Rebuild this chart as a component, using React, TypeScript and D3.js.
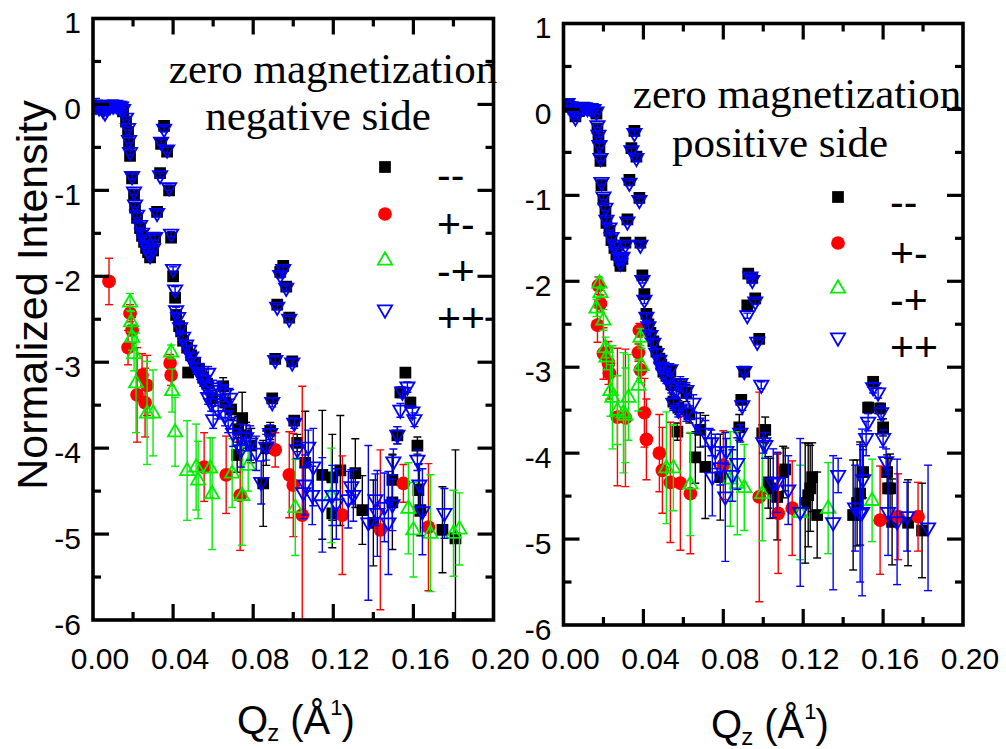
import React from 'react';
import * as d3 from 'd3';

// Each point: [Qz (1/Å), log10 normalized intensity, error on the log value]
type Pt = [number, number, number];

// ---------- negative side ----------
const negMM: Pt[] = [
  [0.002,-0.01,0.03],[0.004,-0.03,0.02],[0.006,-0.06,0.02],[0.008,-0.02,0.02],[0.010,-0.01,0.02],[0.012,-0.02,0.02],[0.014,-0.03,0.02],[0.015,-0.08,0.02],
  [0.0165,-0.20,0.02],[0.0175,-0.32,0.02],[0.018,-0.46,0.03],[0.0185,-0.60,0.03],[0.0195,-0.86,0.03],[0.0205,-1.05,0.03],[0.021,-1.20,0.03],[0.022,-1.32,0.03],
  [0.0235,-1.44,0.03],[0.0245,-1.53,0.03],[0.0255,-1.60,0.03],[0.0265,-1.67,0.03],[0.0275,-1.72,0.03],[0.0285,-1.78,0.03],[0.030,-1.70,0.03],[0.031,-1.55,0.03],
  [0.032,-1.25,0.03],[0.0335,-0.80,0.03],[0.034,-0.46,0.03],[0.0355,-0.25,0.03],[0.037,-0.55,0.03],[0.038,-1.00,0.03],[0.039,-1.55,0.03],[0.040,-2.00,0.03],
  [0.041,-2.25,0.04],[0.0415,-2.45,0.04],[0.043,-2.58,0.04],[0.044,-2.64,0.04],[0.045,-2.75,0.04],[0.047,-2.83,0.05],[0.0475,-3.12,0.05],[0.049,-2.92,0.05],
  [0.051,-3.02,0.06],[0.053,-3.08,0.06],[0.055,-3.18,0.07],[0.057,-3.25,0.08],[0.0595,-3.42,0.09],[0.065,-3.28,0.1],[0.066,-3.47,0.1],[0.069,-3.55,0.12],
  [0.072,-4.08,0.2],[0.0725,-3.78,0.15],[0.0745,-3.65,0.3],[0.0765,-3.85,0.15],[0.079,-3.97,0.2],[0.085,-4.41,0.5],[0.0865,-4.00,0.2],[0.0885,-3.80,0.1],
  [0.0895,-3.42,0.05],[0.091,-2.96,0.04],[0.092,-2.33,0.03],[0.0935,-1.95,0.03],[0.095,-1.88,0.03],[0.0965,-2.12,0.03],[0.098,-2.48,0.03],[0.0995,-2.99,0.04],
  [0.1005,-3.68,0.05],[0.102,-3.94,0.1],[0.106,-4.17,0.6],[0.1145,-4.31,0.75],[0.1195,-4.34,0.5],[0.1195,-4.76,0.4],[0.1235,-4.26,0.64],[0.131,-4.29,0.4],
  [0.1345,-4.72,0.4],[0.140,-4.87,0.5],[0.1495,-4.37,0.3],[0.1495,-4.63,0.55],[0.152,-3.85,0.1],[0.1535,-3.35,0.06],[0.156,-3.12,0.05],[0.1585,-3.47,0.06],
  [0.162,-3.97,0.1],[0.1625,-4.49,0.3],[0.1635,-4.72,0.3],[0.1745,-4.95,0.5],[0.181,-5.05,1.03],
];

const negPM: Pt[] = [
  [0.008,-2.06,0.27],[0.0175,-2.83,0.2],[0.0185,-2.43,0.1],[0.0195,-2.63,0.15],[0.022,-3.38,0.55],[0.0245,-3.15,0.25],[0.026,-3.47,0.4],[0.027,-3.27,0.35],
  [0.0385,-3.01,0.1],[0.039,-3.15,0.12],[0.0555,-4.22,0.4],[0.0665,-4.31,0.45],[0.0735,-4.55,0.64],[0.091,-4.02,0.2],[0.098,-4.31,0.5],[0.100,-4.43,0.6],
  [0.1045,-4.78,1.5],[0.1245,-4.78,0.69],[0.1435,-4.95,0.93],[0.155,-4.41,0.22],[0.1675,-4.92,0.74],
];

const negMP: Pt[] = [
  [0.0185,-2.30,0.1],[0.019,-2.53,0.12],[0.0195,-2.71,0.15],[0.0205,-2.90,0.2],[0.0215,-3.24,0.58],[0.027,-3.59,0.6],[0.030,-3.59,0.5],[0.039,-2.88,0.08],
  [0.0395,-3.33,0.25],[0.041,-3.81,0.4],[0.047,-4.26,0.58],[0.0515,-4.22,0.5],[0.0525,-4.37,0.45],[0.0585,-4.23,0.35],[0.0595,-4.53,0.65],[0.0695,-4.29,0.4],
  [0.0745,-4.55,0.58],[0.0775,-4.20,0.3],[0.101,-4.69,0.56],[0.119,-4.55,0.55],[0.1575,-4.70,0.53],[0.160,-4.95,0.55],[0.1685,-4.99,0.68],[0.180,-4.99,0.5],
  [0.183,-4.94,0.42],
];

const negPP: Pt[] = [
  [0.0015,-0.02,0.09],[0.003,-0.04,0.04],[0.004,-0.01,0.03],[0.005,-0.07,0.03],[0.006,-0.10,0.03],[0.007,-0.05,0.02],[0.008,-0.02,0.02],[0.009,-0.01,0.02],
  [0.010,-0.02,0.02],[0.011,-0.01,0.02],[0.012,-0.02,0.02],[0.013,-0.02,0.02],[0.014,-0.03,0.02],[0.015,-0.06,0.02],
  [0.0165,-0.16,0.02],[0.0175,-0.28,0.02],[0.018,-0.42,0.03],[0.0185,-0.56,0.03],[0.0195,-0.84,0.03],[0.0205,-1.02,0.03],[0.021,-1.17,0.03],[0.022,-1.29,0.03],
  [0.0235,-1.41,0.03],[0.0245,-1.50,0.03],[0.0255,-1.58,0.03],[0.0265,-1.64,0.03],[0.0275,-1.70,0.03],[0.0285,-1.76,0.03],[0.030,-1.68,0.03],[0.031,-1.55,0.03],
  [0.032,-1.27,0.03],[0.0335,-0.83,0.03],[0.034,-0.44,0.03],[0.0355,-0.29,0.03],[0.037,-0.53,0.03],[0.038,-0.97,0.03],[0.039,-1.51,0.03],[0.040,-1.92,0.03],
  [0.041,-2.16,0.04],[0.0415,-2.40,0.04],[0.0425,-2.48,0.04],[0.0435,-2.60,0.04],[0.045,-2.71,0.04],[0.0465,-2.80,0.05],[0.048,-2.86,0.05],[0.049,-2.94,0.05],
  [0.050,-3.00,0.06],[0.0515,-3.07,0.06],[0.0535,-3.13,0.07],[0.055,-3.21,0.07],[0.0565,-3.29,0.08],[0.0575,-3.13,0.08],[0.0575,-3.41,0.08],[0.059,-3.48,0.09],
  [0.060,-3.30,0.09],[0.060,-3.67,0.1],[0.0625,-3.56,0.1],[0.0635,-3.33,0.1],[0.066,-3.36,0.1],[0.066,-3.62,0.12],[0.0675,-3.70,0.12],[0.0685,-3.42,0.1],
  [0.070,-3.83,0.15],[0.0735,-3.87,0.15],[0.074,-4.02,0.2],[0.0765,-3.88,0.15],[0.0785,-3.94,0.2],[0.0815,-4.06,0.2],[0.084,-4.40,0.25],[0.0865,-3.99,0.15],
  [0.0885,-3.83,0.1],[0.0895,-3.47,0.05],[0.091,-2.98,0.04],[0.092,-2.36,0.03],[0.0935,-1.99,0.03],[0.095,-1.92,0.03],[0.0965,-2.14,0.03],[0.098,-2.50,0.03],
  [0.0995,-3.01,0.04],[0.1005,-3.71,0.06],[0.102,-4.02,0.1],
  [0.105,-4.52,0.3],[0.106,-4.43,0.35],[0.1075,-3.99,0.2],[0.1095,-4.55,0.34],[0.110,-4.22,0.45],[0.1145,-4.66,0.55],[0.1195,-4.55,0.35],[0.1215,-4.65,0.41],
  [0.1275,-4.60,0.33],[0.129,-4.45,0.2],[0.130,-4.55,0.3],[0.1375,-4.87,0.9],[0.141,-4.60,0.3],[0.142,-4.76,0.5],[0.1455,-4.69,0.4],[0.1475,-4.87,0.6],
  [0.1495,-4.66,0.3],[0.150,-4.16,0.15],[0.152,-3.85,0.1],[0.1535,-3.56,0.08],[0.1545,-3.35,0.06],[0.157,-3.29,0.06],[0.1595,-3.58,0.07],[0.1605,-3.67,0.08],
  [0.162,-4.14,0.12],[0.163,-4.43,0.25],[0.1645,-4.74,0.5],[0.1755,-4.76,0.29],
];

// ---------- positive side ----------
const posMM: Pt[] = [
  [0.002,0.06,0.03],[0.0035,0.03,0.02],[0.005,0.0,0.02],[0.006,-0.08,0.02],[0.0075,-0.02,0.02],[0.009,0.01,0.02],[0.0105,0.02,0.02],[0.012,0.01,0.02],
  [0.0135,0.0,0.02],[0.015,-0.01,0.02],[0.0165,-0.05,0.02],
  [0.017,-0.22,0.02],[0.0175,-0.33,0.02],[0.018,-0.45,0.03],[0.0185,-0.60,0.03],[0.019,-0.88,0.03],[0.020,-1.05,0.03],[0.021,-1.19,0.03],[0.0215,-1.32,0.03],
  [0.023,-1.41,0.03],[0.024,-1.52,0.03],[0.0255,-1.61,0.03],[0.0265,-1.69,0.03],[0.028,-1.76,0.03],[0.0285,-1.82,0.03],[0.0295,-1.74,0.03],[0.031,-1.55,0.03],
  [0.032,-1.28,0.03],[0.033,-0.82,0.03],[0.034,-0.45,0.03],[0.0355,-0.25,0.03],[0.0365,-0.55,0.03],[0.038,-1.03,0.03],[0.0385,-1.55,0.03],[0.0395,-1.93,0.03],
  [0.0405,-2.15,0.04],[0.0415,-2.38,0.04],[0.0425,-2.50,0.04],[0.0435,-2.60,0.04],[0.045,-2.70,0.04],[0.0465,-2.82,0.05],[0.048,-2.90,0.05],[0.049,-2.97,0.05],
  [0.050,-3.05,0.06],[0.0515,-3.10,0.06],[0.0535,-3.05,0.07],[0.054,-3.20,0.07],[0.055,-3.40,0.08],[0.057,-3.75,0.1],[0.0575,-3.47,0.08],[0.059,-3.22,0.08],
  [0.0615,-3.30,0.1],[0.063,-3.55,0.1],[0.066,-4.05,0.3],[0.0685,-3.73,0.2],[0.071,-4.16,0.6],[0.0785,-4.28,0.5],[0.088,-3.70,0.15],[0.089,-3.38,0.05],
  [0.0905,-3.05,0.04],[0.092,-2.28,0.03],[0.0925,-1.91,0.03],[0.0945,-1.96,0.03],[0.096,-2.20,0.03],[0.098,-2.67,0.03],[0.0995,-3.77,0.1],[0.101,-3.73,0.15],
  [0.1025,-4.34,0.3],[0.1035,-4.41,0.35],[0.107,-4.51,0.5],[0.110,-4.22,0.3],[0.111,-4.19,0.25],[0.121,-4.58,0.7],[0.1225,-4.49,0.6],[0.1235,-4.41,0.5],
  [0.1245,-4.28,0.4],[0.127,-4.72,0.5],[0.145,-4.72,0.64],[0.147,-4.58,0.5],[0.1485,-4.47,0.6],[0.150,-4.22,0.3],[0.1525,-3.47,0.06],[0.155,-3.17,0.05],
  [0.1585,-3.48,0.06],[0.160,-3.70,0.1],[0.162,-4.22,0.2],[0.1625,-4.41,0.35],[0.1635,-4.41,0.4],[0.1645,-4.80,0.5],[0.1725,-4.81,0.5],[0.1795,-4.90,0.55],
];

const posPM: Pt[] = [
  [0.017,-2.51,0.2],[0.0175,-2.05,0.1],[0.0185,-2.26,0.1],[0.020,-2.84,0.3],[0.0225,-2.95,0.25],[0.023,-3.07,0.3],[0.027,-3.58,0.8],[0.031,-3.59,0.8],
  [0.0375,-2.83,0.1],[0.038,-2.57,0.08],[0.0385,-3.03,0.1],[0.0405,-3.53,0.4],[0.0415,-3.84,0.47],[0.048,-4.00,0.45],[0.0495,-4.20,0.5],[0.0535,-4.34,0.7],
  [0.0585,-4.35,0.78],[0.0635,-4.47,0.7],[0.080,-4.14,0.4],[0.098,-4.51,1.22],[0.1075,-4.70,0.7],[0.1145,-4.64,0.55],[0.1585,-4.78,0.63],[0.1675,-4.74,0.5],
  [0.1775,-4.74,0.4],
];

const posMP: Pt[] = [
  [0.0165,-2.31,0.1],[0.018,-2.02,0.06],[0.0185,-2.13,0.06],[0.020,-2.45,0.12],[0.021,-2.77,0.12],[0.0215,-2.88,0.15],[0.0235,-3.27,0.3],[0.0245,-3.35,0.6],
  [0.027,-3.50,0.4],[0.030,-3.53,0.7],[0.031,-3.56,0.55],[0.0325,-3.35,0.5],[0.0375,-3.21,0.3],[0.0385,-2.65,0.1],[0.039,-2.98,0.2],[0.0515,-4.17,0.65],
  [0.055,-4.17,0.5],[0.0635,-4.36,0.6],[0.0835,-4.30,0.55],[0.087,-4.35,0.6],[0.0905,-4.40,0.5],[0.0995,-4.47,0.55],[0.1185,-4.69,0.55],[0.1325,-4.64,0.53],
  [0.1545,-4.55,0.48],
];

const posPP: Pt[] = [
  [0.002,0.07,0.03],[0.0035,0.03,0.02],[0.005,-0.01,0.02],[0.006,-0.10,0.02],[0.0075,-0.03,0.02],[0.009,0.01,0.02],[0.0105,0.02,0.02],[0.012,0.01,0.02],
  [0.0135,0.01,0.02],[0.015,0.0,0.02],[0.0165,-0.03,0.02],
  [0.017,-0.19,0.02],[0.0175,-0.30,0.02],[0.018,-0.42,0.03],[0.0185,-0.57,0.03],[0.019,-0.85,0.03],[0.020,-1.02,0.03],[0.021,-1.15,0.03],[0.0215,-1.29,0.03],
  [0.023,-1.38,0.03],[0.024,-1.49,0.03],[0.0255,-1.58,0.03],[0.0265,-1.66,0.03],[0.028,-1.73,0.03],[0.0285,-1.79,0.03],[0.0295,-1.72,0.03],[0.031,-1.58,0.03],
  [0.032,-1.31,0.03],[0.033,-0.86,0.03],[0.034,-0.48,0.03],[0.0355,-0.28,0.03],[0.0365,-0.57,0.03],[0.038,-1.06,0.03],[0.0385,-1.58,0.03],[0.0395,-1.99,0.03],
  [0.0405,-2.22,0.04],[0.0415,-2.42,0.04],[0.0425,-2.53,0.04],[0.0435,-2.63,0.04],[0.045,-2.72,0.04],[0.0465,-2.84,0.05],[0.048,-2.92,0.05],[0.049,-3.00,0.05],
  [0.050,-3.07,0.06],[0.0515,-3.13,0.06],[0.0535,-3.03,0.07],[0.054,-3.23,0.07],[0.055,-3.42,0.08],[0.0565,-3.27,0.08],[0.0575,-3.50,0.08],[0.0585,-3.19,0.08],
  [0.0615,-3.27,0.09],[0.0615,-3.53,0.1],[0.065,-3.42,0.1],[0.0665,-3.65,0.12],[0.071,-3.77,0.15],[0.074,-3.88,0.15],[0.0745,-4.28,0.45],[0.076,-3.98,0.2],
  [0.0785,-4.17,0.2],[0.081,-4.51,0.75],[0.0815,-3.98,0.15],[0.0845,-4.26,0.3],[0.087,-4.12,0.3],[0.0885,-3.77,0.1],[0.0895,-3.45,0.05],[0.0905,-3.05,0.04],
  [0.092,-2.40,0.03],[0.0935,-1.95,0.03],[0.0945,-1.99,0.03],[0.096,-2.24,0.03],[0.097,-2.71,0.03],[0.099,-3.21,0.04],[0.100,-3.88,0.12],[0.101,-3.91,0.15],
  [0.105,-4.35,0.4],[0.107,-4.34,0.35],[0.1125,-4.43,0.4],[0.1185,-4.69,0.86],[0.135,-4.81,0.78],[0.1375,-4.26,0.2],[0.146,-4.64,0.5],[0.1485,-4.70,0.8],
  [0.1495,-4.69,0.97],[0.150,-4.31,0.35],[0.1515,-3.83,0.2],[0.1525,-3.64,0.1],[0.155,-3.24,0.06],[0.1575,-3.30,0.06],[0.159,-3.53,0.08],[0.160,-3.83,0.1],
  [0.1615,-4.10,0.15],[0.1625,-4.69,0.5],[0.167,-4.80,0.73],[0.172,-4.74,0.4],[0.1825,-4.87,0.73],
];

// ---------- axes ----------
const xMajorTicks = [0, 0.04, 0.08, 0.12, 0.16, 0.2];
const xMinorTicks = [0.02, 0.06, 0.1, 0.14, 0.18];
const yMajorTicks = [1, 0, -1, -2, -3, -4, -5, -6];
const yMinorTicks = [0.5, -0.5, -1.5, -2.5, -3.5, -4.5, -5.5];
const seriesLabels = ['--', '+-', '-+', '++'];

const SANS = "'Liberation Sans', Arial, Helvetica, sans-serif";
const SERIF = "'Liberation Serif', 'Times New Roman', serif";

type Kind = 'square' | 'circle' | 'up' | 'down';
const seriesStyle: { kind: Kind; color: string }[] = [
  { kind: 'square', color: '#000000' },
  { kind: 'circle', color: '#ff0000' },
  { kind: 'up', color: '#00ee00' },
  { kind: 'down', color: '#0000ff' },
];

const squarePath = d3.symbol(d3.symbolSquare, 138)()!;
const circlePath = d3.symbol(d3.symbolCircle, 148)()!;
const triPath = d3.symbol(d3.symbolTriangle, 88)()!;

function Marker({ kind, color, x, y }: { kind: Kind; color: string; x: number; y: number }) {
  if (kind === 'square') return <path d={squarePath} transform={`translate(${x},${y})`} fill={color} />;
  if (kind === 'circle') return <path d={circlePath} transform={`translate(${x},${y})`} fill={color} />;
  if (kind === 'up')
    return <path d={triPath} transform={`translate(${x},${y + 0.5})`} fill="none" stroke={color} strokeWidth={1.8} />;
  return <path d={triPath} transform={`translate(${x},${y - 0.5}) rotate(180)`} fill="none" stroke={color} strokeWidth={1.8} />;
}

interface PanelProps {
  id: string;
  left: number;
  right: number;
  top: number;
  bottom: number;
  series: Pt[][];
  title: [string, string];
  titleX: [number, number];
  titleY: [number, number];
  legendX: number;
  legendTextX: number;
  legendY: number[];
  legendTextY: number[];
  labelCx: number;
  labelBase: number;
}

function Panel(p: PanelProps) {
  const x = d3.scaleLinear().domain([0, 0.2]).range([p.left, p.right]);
  const y = d3.scaleLinear().domain([-6, 1]).range([p.bottom, p.top]);
  const fmtX = d3.format('.2f');
  const tickW = 3.2;
  const majorLen = 16;
  const minorLen = 8;
  const cap = 4;

  return (
    <g>
      <defs>
        <clipPath id={`clip-${p.id}`}>
          <rect x={p.left} y={p.top} width={p.right - p.left} height={p.bottom - p.top} />
        </clipPath>
      </defs>

      {/* data: error bars under each series' markers */}
      <g clipPath={`url(#clip-${p.id})`}>
        {p.series.map((data, si) => {
          const st = seriesStyle[si];
          return (
            <g key={si}>
              {data.map(([q, v, e], i) => {
                const cx = x(q);
                const yTop = y(v + e);
                const yBot = y(v - e);
                return (
                  <g key={i} stroke={st.color} strokeWidth={1.4}>
                    <line x1={cx} x2={cx} y1={yTop} y2={yBot} />
                    <line x1={cx - cap} x2={cx + cap} y1={yTop} y2={yTop} />
                    <line x1={cx - cap} x2={cx + cap} y1={yBot} y2={yBot} />
                  </g>
                );
              })}
              {data.map(([q, v], i) => (
                <Marker key={`m${i}`} kind={st.kind} color={st.color} x={x(q)} y={y(v)} />
              ))}
            </g>
          );
        })}
      </g>

      {/* ticks, pointing inward on all four sides */}
      <g stroke="#000" strokeWidth={tickW}>
        {xMajorTicks.slice(1, -1).map((t) => (
          <g key={`xM${t}`}>
            <line x1={x(t)} x2={x(t)} y1={p.bottom} y2={p.bottom - majorLen} />
            <line x1={x(t)} x2={x(t)} y1={p.top} y2={p.top + majorLen} />
          </g>
        ))}
        {xMinorTicks.map((t) => (
          <g key={`xm${t}`}>
            <line x1={x(t)} x2={x(t)} y1={p.bottom} y2={p.bottom - minorLen} />
            <line x1={x(t)} x2={x(t)} y1={p.top} y2={p.top + minorLen} />
          </g>
        ))}
        {yMajorTicks.slice(1, -1).map((t) => (
          <g key={`yM${t}`}>
            <line x1={p.left} x2={p.left + majorLen} y1={y(t)} y2={y(t)} />
            <line x1={p.right} x2={p.right - majorLen} y1={y(t)} y2={y(t)} />
          </g>
        ))}
        {yMinorTicks.map((t) => (
          <g key={`ym${t}`}>
            <line x1={p.left} x2={p.left + minorLen} y1={y(t)} y2={y(t)} />
            <line x1={p.right} x2={p.right - minorLen} y1={y(t)} y2={y(t)} />
          </g>
        ))}
      </g>

      {/* frame */}
      <rect x={p.left} y={p.top} width={p.right - p.left} height={p.bottom - p.top} fill="none" stroke="#000" strokeWidth={3.6} />

      {/* tick labels */}
      <g fontFamily={SANS} fontSize={30} fill="#000">
        {yMajorTicks.map((t) => (
          <text key={`yl${t}`} x={p.left - 12} y={y(t) + 4} textAnchor="end" dominantBaseline="central">
            {String(t)}
          </text>
        ))}
        {xMajorTicks.map((t) => (
          <text key={`xl${t}`} x={x(t) + 7} y={669} textAnchor="middle">
            {fmtX(t)}
          </text>
        ))}
      </g>

      {/* panel title */}
      <g fontFamily={SERIF} fontSize={43} fill="#000" textAnchor="middle">
        <text x={p.titleX[0]} y={p.titleY[0]}>{p.title[0]}</text>
        <text x={p.titleX[1]} y={p.titleY[1]}>{p.title[1]}</text>
      </g>

      {/* legend */}
      <g>
        {seriesStyle.map((st, i) => (
          <g key={`lg${i}`}>
            <Marker kind={st.kind} color={st.color} x={p.legendX} y={p.legendY[i]} />
            <text x={p.legendTextX} y={p.legendTextY[i]} fontFamily={SANS} fontSize={41} fill="#000">
              {seriesLabels[i]}
            </text>
          </g>
        ))}
      </g>

      {/* x axis title: Q with subscript z, Å with superscript 1 */}
      <text x={p.labelCx - 52} y={p.labelBase} fontFamily={SANS} fontSize={40} fill="#000">
        Q
        <tspan fontSize={24} dx={-1} dy={7}>z</tspan>
        <tspan dy={-7}> (Å</tspan>
        <tspan fontSize={22} dx={0} dy={-19}>1</tspan>
        <tspan dx={-1} dy={19}>)</tspan>
      </text>
    </g>
  );
}

export default function App() {
  return (
    <svg
      width={1006}
      height={749}
      viewBox="0 0 1006 749"
      style={{ position: 'absolute', left: 0, top: 0, background: '#fff' }}
    >
      <rect x={0} y={0} width={1006} height={749} fill="#fff" />
      <Panel
        id="neg"
        left={93}
        right={493.5}
        top={18.5}
        bottom={620}
        series={[negMM, negPM, negMP, negPP]}
        title={['zero magnetization', 'negative side']}
        titleX={[333, 318]}
        titleY={[83, 130]}
        legendX={385}
        legendTextX={437}
        legendY={[167, 214, 260, 310]}
        legendTextY={[189, 238, 285, 332]}
        labelCx={289}
        labelBase={734}
      />
      <Panel
        id="pos"
        left={563.5}
        right={963}
        top={23.5}
        bottom={625}
        series={[posMM, posPM, posMP, posPP]}
        title={['zero magnetization', 'positive side']}
        titleX={[797, 780]}
        titleY={[108, 157]}
        legendX={838}
        legendTextX={890}
        legendY={[197, 243, 288, 338]}
        legendTextY={[216, 267, 314, 361]}
        labelCx={763}
        labelBase={738}
      />
      <text
        transform="translate(47,295) rotate(-90)"
        textAnchor="middle"
        fontFamily={SANS}
        fontSize={43}
        fill="#000"
      >
        Normalized Intensity
      </text>
    </svg>
  );
}
